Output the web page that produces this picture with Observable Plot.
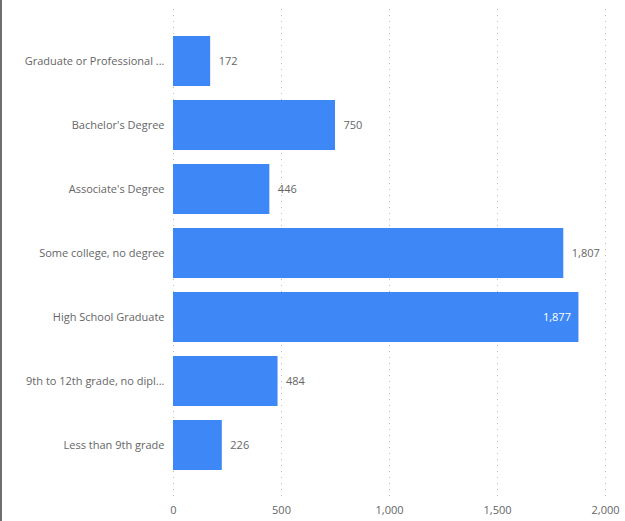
<!DOCTYPE html>
<html>
<head>
<meta charset="utf-8">
<script src="https://cdn.jsdelivr.net/npm/d3@7"></script>
<script src="https://cdn.jsdelivr.net/npm/@observablehq/plot@0.6"></script>
<style>
  html, body { margin: 0; padding: 0; background: #fff; }
  #wrap { position: relative; width: 625px; height: 521px; overflow: hidden; }
  #edge { position: absolute; left: 0; top: 0; width: 2px; height: 521px; background: #6e6e6e; }
  svg { font-family: "Open Sans", "Noto Sans", sans-serif; }
</style>
</head>
<body>
<div id="wrap"><div id="edge"></div></div>
<script>
const categories = [
  "Graduate or Professional Degree",
  "Bachelor's Degree",
  "Associate's Degree",
  "Some college, no degree",
  "High School Graduate",
  "9th to 12th grade, no diploma",
  "Less than 9th grade"
];
const values = [172, 750, 446, 1807, 1877, 484, 226];
const xTicks = [0, 500, 1000, 1500, 2000];

const data = categories.map((c, i) => ({category: c, value: values[i]}));

const fontSpec = "11px 'Open Sans'";
const ctx = document.createElement("canvas").getContext("2d");
ctx.font = fontSpec;
function truncate(s, maxW) {
  if (ctx.measureText(s).width <= maxW) return s;
  let t = s;
  while (t.length > 0 && ctx.measureText(t + "...").width > maxW) t = t.slice(0, -1);
  return t + "...";
}

const fmt = d3.format(",");
const xMax = 2000;
const insideThreshold = 1850;

const chart = Plot.plot({
  width: 625,
  height: 521,
  marginLeft: 173,
  marginRight: 20,
  marginTop: 9,
  marginBottom: 24,
  style: {fontSize: "11px", fontFamily: "'Open Sans', sans-serif", color: "#666", background: "transparent"},
  x: {domain: [0, xMax], ticks: xTicks, tickFormat: fmt, tickSize: 0, tickPadding: 9, label: null},
  y: {domain: categories, paddingInner: 0.22, paddingOuter: 0.4, tickSize: 0, tickPadding: 9, label: null,
      tickFormat: d => truncate(d, 140)},
  marks: [
    Plot.gridX(xTicks, {stroke: "#bbb", strokeOpacity: 1, strokeDasharray: "1,5", strokeWidth: 1}),
    Plot.barX(data, {x: "value", y: "category", fill: "#3D88F6"}),
    Plot.text(data.filter(d => d.value <= insideThreshold), {x: "value", y: "category", text: d => fmt(d.value), textAnchor: "start", dx: 8, fill: "#666"}),
    Plot.text(data.filter(d => d.value > insideThreshold), {x: "value", y: "category", text: d => fmt(d.value), textAnchor: "end", dx: -8, fill: "#fff"})
  ]
});
document.getElementById("wrap").appendChild(chart);
</script>
</body>
</html>
